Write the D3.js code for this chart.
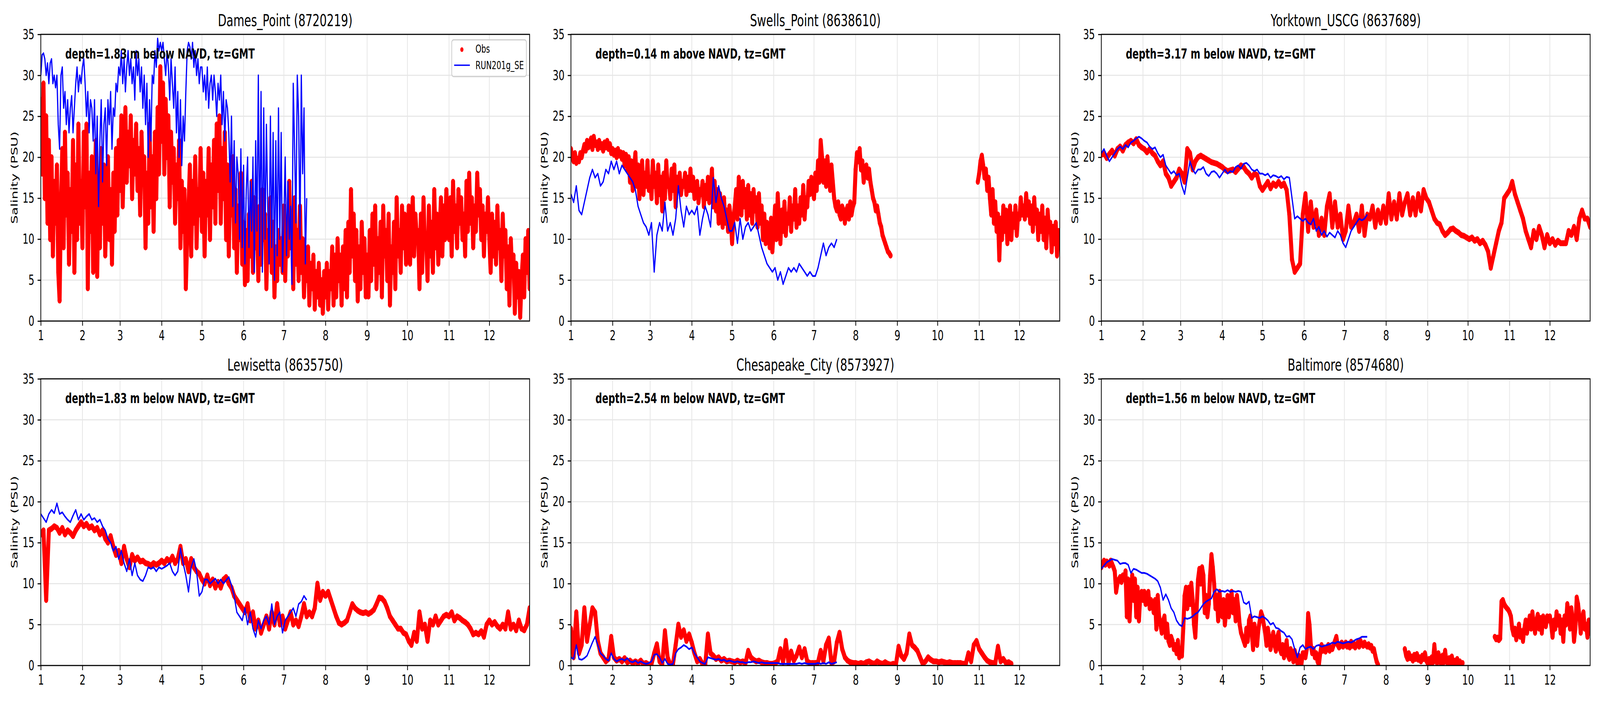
<!doctype html>
<html>
<head>
<meta charset="utf-8">
<title>Salinity: Obs vs RUN201g_SE</title>
<script src="https://cdn.jsdelivr.net/npm/d3@7"></script>
<style>
  html, body { margin: 0; padding: 0; width: 100%; height: 100%; overflow: hidden; background: #fff; }
  #chart { display: block; width: 100vw; height: 100vh; }
  svg text { font-family: "DejaVu Sans", sans-serif; }
</style>
</head>
<body>
<svg id="chart" viewBox="0 0 6000 1800" preserveAspectRatio="none"></svg>
<script>
// each series starts on Jan 1; values are every N days (see *StepDays), null = no data
const year = 2019;
const months = [1, 2, 3, 4, 5, 6, 7, 8, 9, 10, 11, 12];
const yTicks = [0, 5, 10, 15, 20, 25, 30, 35];
const stationTitles = ["Dames_Point (8720219)", "Swells_Point (8638610)", "Yorktown_USCG (8637689)",
                       "Lewisetta (8635750)", "Chesapeake_City (8573927)", "Baltimore (8574680)"];
const depthNotes = ["depth=1.83 m below NAVD, tz=GMT", "depth=0.14 m above NAVD, tz=GMT",
                    "depth=3.17 m below NAVD, tz=GMT", "depth=1.83 m below NAVD, tz=GMT",
                    "depth=2.54 m below NAVD, tz=GMT", "depth=1.56 m below NAVD, tz=GMT"];
const seriesNames = ["Obs", "RUN201g_SE"];
const yLabel = "Salinity (PSU)";
const obsStepDays = [1, 1, 2, 2, 2, 1];
const modelStepDays = [1, 2, 2, 2, 2, 2];

const damesObs = [
  27,18,29,15,25,12,22,10,20,8,17,12,19,6,2.5,14,21,9,23,13,18,7,16,11,22,6,19,10,24,12,17,
  9,23,14,24,4,18,11,20,6,15,22,5.5,17,9,21,12,19,8,14,20,10,16,7,18,11,21,13,22,
  16,25,14,21,26,17,23,19,25,15,22,18,24,16,21,13,23,17,20,9,18,12,24,14,20,11,23,15,26,18,31,
  22,29,18,27,20,25,14,23,17,21,12,19,15,22,9,17,11,16,4,10,14,19,8,17,12,20,9,16,13,21,
  11,18,8,17,13,21,10,19,14,22,12,24,16,25,12,21,15,23,10,19,8,17,13,20,9,16,6,14,10,18,7,
  12,4.5,11,5,13,8,17,6,15,9,12,5,14,7,16,10,13,4,11,8,15,6,12,3,9,5,11,7,10,6,
  14,5,12,8,17,9,13,4,15,7,11,5,14,6,10,3,8,5,9,2,7,4,8,1.5,6,3,7,2,5,1,6,
  3,7,1.5,6,4,9,2,8,3,10,5,8,2,9,4,11,3,12,6,16,8,13,5,11,2.5,9,4,12,6,10,3,
  8,3,11,5,13,7,14,4,10,6,12,3,14,8,11,5,13,2,9,6,12,4,15,8,11,6,14,9,13,7,
  9,14,7,12,15,8,13,10,11,4,13,6,15,9,10,5,14,8,12,6,16,9,13,7,11,15,8,14,10,16,12,
  10,15,8,17,11,14,9,16,12,15,10,13,8,17,11,18,12,15,9,14,11,18,13,16,10,14,8,13,11,15,
  10,6,13,8,12,7,14,9,11,5,13,8,11,4,9,2,10,6,8,1,7,3,6,0.5,5,8,3,10,6,11,4];
const damesModel = [
  30,32.5,32.7,32,30,31.5,29,31.5,32,29,30,28.5,30,24,21,30,31,26,28,24,27,23,26,27.5,23,26,29,31,28,30,29,
  31,32,29,25,28,23,27,26,22,27,18,25,14,22,27,17,24,26,19,27,24,28,21,26,25,29,28,31,
  30,33,29,32,28,31,33,30,32,29,31,27,33,30,32,28,31,26,30,24,29,20,27,22,30,29,33,31,34.5,33,34,
  33,34,32,30,33,31,27,32,29,26,31,23,28,20,27,19,25,22,28,33,34,33.5,32,34,31,33,30,32,29,31,
  31,28,30,27,31,26,29,30,27,30,28,25,29,27,30,24,28,22,27,26,23,17,25,14,22,12,20,18,10,21,9,
  19,7,16,20,9,17,11,20,6,22,11,30,8,28,6,26,10,24,14,7,25,9,23,5,22,8,26,10,23,6,
  12,20,8,17,10,14,4.5,29,21,12,30,25,10,30,18,26,7,15];

const swellsObs = [
  21,20,19.5,20.5,19.3,19.8,19.5,20.5,20,20.8,21.5,20.8,22,21.2,21.8,22.3,21,22.5,21.5,21.8,21,22,21.2,21.6,20.8,21.8,21.2,22,21,21.6,20.5,
  21,20.3,20.8,20,21,20.2,20.6,19.8,20.5,19,20.3,18.5,20,17,19.5,16,18.5,20.5,16.5,19,15,17.5,19.5,15.5,18,16.5,19.5,16,
  17.5,15,19.5,16.5,18,14.5,19,15.5,17.5,13.5,18,15,19.5,16.5,17,15,18.5,16,19,14,17.5,16,18,15.5,17,16.5,18,15.5,17.5,16,18.5,
  16,17.5,15,16.5,17,14.5,16,15.5,17,14,16.5,15,17.5,14.5,16,18.5,14,17,13.5,16,12,15.5,13,11.5,15,12,13.5,11,14,12.5,
  9.5,12.5,14,16,12.5,17.5,15,13,17,14,16,12.5,16.5,13,15.5,12,16,13.5,15,11.5,15.5,12,14,10,13,9.5,12,11,9,12.5,8.5,
  11,14,10,15.5,12,9.5,13.5,11,14.5,10.5,13,12,15,11,14,12.5,16,11.5,14,12,15,13,16.5,12.5,15,14,17,15.5,17.5,16,
  15,18,16,19.5,17,22,20,17,19.5,16.5,20,18,16,19,17,15,14,13.5,14.5,13,12.5,14,13.5,12,13.5,14,12.5,14.5,13,14,14.5,
  18.5,20.5,19.5,21,18.5,19.5,17,18.5,19,17.5,18.5,17,16,15,14.5,13.5,14,13,12,11.5,10.5,10,9.5,9,8.5,8.3,8,null,null,null,null,
  null,null,null,null,null,null,null,null,null,null,null,null,null,null,null,null,null,null,null,null,null,null,null,null,null,null,null,null,null,null,
  null,null,null,null,null,null,null,null,null,null,null,null,null,null,null,null,null,null,null,null,null,null,null,null,null,null,null,null,null,null,17,
  18,19.5,20.2,19,17.5,18.5,16,17.5,15,13,16,12,14.5,11,13,7.5,12.5,10,14,11,13.5,9.5,12,14,10,13,11.5,14,10.5,13,
  12.5,15,13,14,12.5,15.5,13,14.5,12,14,11,15,12,13.5,10,13,11,14,10,12.5,9,13.5,11,12,8.5,11.5,9.5,12,8,11,9.5];
const swellsModel = [
  15.5,14.5,16.5,13.5,13,14.5,16,17.5,18.5,17.5,18,16.5,17,18.5,18,19.5,
  18.5,19.5,18,19,18.5,18,17.5,17,16,14,13,12,11.5,10.5,
  12,6,10.5,12,11,14.5,11,12,10.5,12.5,16.5,13.5,11.5,14,13,
  13.5,13,14,10.5,12.5,14,13,11.5,17.5,14.5,16.5,15,14,12.5,11,
  11,12,9.5,12.5,10,11.5,12,11,11.5,12,10.5,9,8,7,6.5,6,
  6.5,5,6,4.5,5.5,6.5,6,6.5,6,7,6.5,6,5.5,6,5.5,
  5.5,6.5,8,9.5,8,9,9.5,9,10];

const yorktownObs = [
  20.3,20.5,19.9,20.4,20.8,20.2,21,21.3,20.8,21.5,21.8,22,21.7,22.2,21.5,21.2,
  21,20.6,21,20.5,20.2,19.5,19,19.5,18,17.5,16.5,17,17.5,18.5,
  18,17,21,20.5,18.5,19.5,20,20.2,20,19.8,19.6,19.4,19.3,19.2,19,
  18.8,18.5,18.3,18.4,18.5,18.2,18.6,19,18.8,18.3,18,17.5,18,17.8,16.5,
  16,16.5,17,16.2,16.8,16.5,17,16.5,16.8,16,13,7.5,6,6.5,7,13,
  15.5,11,14.5,11.5,13.5,10.5,12.5,10.5,14,15.5,11.5,14.5,11.5,13,10,
  11,14,11.5,12,13,11,14,10.5,13,12.5,14,11.5,13.5,12,14,
  12,15.5,12.5,14.5,12.5,15.5,13,14.5,15.5,13,15,13,15.5,13.5,16,15,
  14.5,13.5,12.5,12,11.8,11,10.5,10.8,11.2,11.3,11,10.8,10.5,10.4,10.2,
  10,10.2,9.8,10,9.5,9.8,9.3,8.5,6.5,8,9.5,11,12,15,15.5,
  16,17,15.5,14.5,13.5,12.5,11,10,9,11,10,11.5,10.5,9,10.5,
  9.5,10,9.3,9.8,9.5,9.5,9.5,11,10.5,11.5,10,12.5,13.5,12.5,12.5,11.5];
const yorktownModel = [
  20.5,21,20.2,19.5,20,20.5,21,21.3,21,21.5,21.2,21.8,22,22.3,22.5,22.3,
  22,21.8,21.3,21,21.2,20.5,20,20.3,19,18.5,18,18.3,17.8,18,
  16.5,15.5,17.5,19.5,18.5,18,18.5,18.5,18.8,18,17.7,18.2,18.3,18,17.5,
  18,18.5,18,18.3,18.2,18.8,19,18.6,19.2,19.3,19,18.5,18.3,18.5,18,
  18,17.8,18,17.5,17.8,17.7,17.5,17.7,17.3,17.6,17.5,15,12.5,12.8,12.5,12.2,
  12.5,12,11.8,12.5,11,11.5,10.5,11,10.3,10.8,10.5,10.2,11,10.5,9.5,
  9,10,11,11.5,12,12.5,12.3,12.5,13];

const lewisettaObs = [
  16,16.5,8,16.5,16.7,17,16.8,16.2,16.8,16,16.5,16.2,15.8,16.5,17,17.5,
  17,17.3,16.8,17,16.5,16.8,16,16.5,15.5,15,15.8,14.5,13.5,14,
  12.5,14.5,13,12,13.5,12.8,13.2,12.7,12.8,12.5,12.4,12.2,12.5,12.3,12.5,
  12.8,12.5,13,12.7,13.3,12.5,13,14.5,12.5,13,11.5,13,12,11.5,11.2,
  10.5,10,11,9.8,10.5,9.5,10.2,9.5,10.5,10.8,10,9.5,8.5,8,7.5,7,
  6.5,7.5,5.5,6.5,4.5,5.5,4,5,6,4.5,6.5,5,7.5,5,6,
  4.5,5.5,6.5,5,5.5,4.8,6,7.5,6,6.5,6,7,10,8,9,
  8.5,9,8,7,6,5.2,5,5.2,5.5,6.5,7.5,7,6.7,6.5,6.4,6.5,
  6.3,6.5,6.8,7.5,8.3,8.2,7.8,7,6,5.5,5,4.5,4.5,4,3.8,
  3,2.5,4,3,6.5,4.5,5,3,5.5,5,6,5,5.5,6,6.2,
  6,6.5,5.5,6,5.8,5.5,5.3,5,4.5,3.8,4,3.8,4.2,3.5,5,
  5.5,5,5.3,4.8,4.5,5,4.5,6.5,4.5,5,4.3,5.5,4.5,4.3,5,7];
const lewisettaModel = [
  18.5,18,17.5,18.5,19,18.6,19.8,18.5,18.7,18.2,17.8,17.5,18.3,19,17.8,18.5,
  17.8,18.2,18.5,17.8,18,17.5,17.8,17,16.5,15.5,15,14,14.5,13,
  14,12.5,11.5,13,11,12.5,11,10.5,10.3,11,12,11.8,12,11.5,12,
  11.8,12,12.2,12.5,11.5,11,11.5,14.3,12.5,11,9,12,13,11.5,8.5,
  9,10.5,10.5,10,10.3,10.6,10,10.5,10,10.4,10.8,9.8,8.5,6.5,6,5.5,
  7,5,6.5,4.5,3.5,5.5,4.5,5.5,6,5,7.5,5,6,6.5,4,
  5.5,6,6.5,7,6,7.5,7.8,8.5,8];

const chesapeakeObs = [
  4.5,1,6.5,1.5,2.5,7,3,5,7,6.5,3,1.5,1,0.5,0.8,3.5,
  1,0.6,0.8,0.5,0.9,0.4,0.6,0.3,0.5,0.3,0.6,0.2,0.3,0.1,
  0.2,1.5,2.6,0.5,0.2,4.2,1,0.1,0.2,2.5,5,3.5,4.3,3,3.8,
  2.8,1.5,0.5,0.8,0.2,0.1,3.8,1.5,1.2,0.8,1,0.6,0.8,0.5,0.6,
  0.5,0.4,0.6,0.4,0.5,0.3,1.8,1,0.7,0.5,0.6,0.4,0.3,0.3,0.2,0.2,
  0.3,0.5,2,0.4,3,0.3,1.7,0.6,1.2,2.2,1,2,0.5,0.3,0.3,
  0.3,0.4,1.8,0.5,2.5,3.3,0.3,0.5,2.8,4,2,1,0.6,0.4,0.3,
  0.3,0.2,0.3,0.2,0.4,0.5,0.3,0.2,0.5,0.3,0.2,0.4,0.2,0.1,0.2,0.1,
  2.3,1.2,0.8,1.5,3.8,2.5,2.2,1.8,1,0.2,0.5,1,0.7,0.5,0.5,
  0.4,0.5,0.4,0.3,0.4,0.3,0.3,0.3,0.3,0.2,0.2,1.5,0.5,2.5,3,
  2,1.5,1,0.6,0.4,0.3,0.3,2.3,0.5,0.8,0.3,0.4,0.2];
const chesapeakeModel = [
  1,0.8,2.5,0.8,0.7,0.9,1.2,2,2.8,3.5,2.5,1.5,1.2,0.8,0.6,1.5,
  0.8,0.5,0.7,0.8,0.6,0.9,0.5,0.4,0.6,0.3,0.5,0.3,0.2,0.3,
  0.5,1.3,1.4,1,0.3,0.8,0.2,0.1,0.2,1.5,2,2.2,2.5,2.3,2,
  2.2,1.5,1,0.5,0.3,0.2,1,0.9,0.8,0.7,0.8,0.6,0.7,0.5,0.6,
  0.5,0.4,0.5,0.4,0.4,0.3,0.4,0.4,0.5,0.4,0.3,0.4,0.3,0.3,0.3,0.3,
  0.3,0.3,0.2,0.2,0.2,0.2,0.2,0.2,0.2,0.3,0.2,0.3,0.2,0.2,0.2,
  0.2,0.3,0.2,0.3,0.2,0.4,0.2,0.3,0.4];

const baltimoreObs = [
  12,12.5,12.8,12.3,12.7,12.5,12.2,12.8,12.4,12,11.5,9,10,10.5,10.8,10.2,11,10.5,11.5,6,10.5,5.5,9,11,8,10.5,6,9.5,5.5,8.5,9,
  8,9,7.5,8.5,9,7,8,7.5,6.5,8,4.5,8.5,6,5,4,5.5,6,3.5,5,3,2.5,3.5,3,2,2.5,1.5,3,1,
  2,1.2,4.5,8.5,9.5,7,9.5,7.5,10,8,5,3.5,7,10.5,11.8,10,12,11,6.5,8.5,6,7.5,11,13.5,12,10,7,8.5,5.5,9,7,
  6,8,5,6.5,8.5,6,7.5,9,6.5,8,5.5,8.5,7,5,4,3.5,3,2.5,4.5,3,5.5,6,4,2,5,3.5,2.5,4.5,5.5,6.5,
  6,5,4,2.5,4.5,3.5,2,3,4,2.5,1.8,3.5,4,2,1.5,2.5,1,2,3,1.2,0.8,2,1.5,0.5,1.8,1,0.3,1.2,0.5,0.2,1.5,
  1.5,1,2,6.3,5,2.5,1.5,2,1,1.5,0.5,0.1,1.5,2.5,1.8,2.2,1.7,2,2.5,1.8,2.2,2,2.5,3,3.5,2.5,2.2,2.4,2.8,2.3,
  2.5,2.8,2.3,2.6,2.2,2.9,2.4,2.7,2.2,2.5,2.8,2.3,3,2.6,2.4,2.8,2.5,2.3,2.6,2.2,2.4,1.8,2,1.2,0.5,0.1,null,null,null,null,null,
  null,null,null,null,null,null,null,null,null,null,null,null,null,null,2,1.2,0.8,1.5,0.9,1.1,0.6,1.3,0.8,1.4,0.7,1,0.5,1.2,0.8,1.5,0.6,
  0.3,0.8,0.2,1,0.4,2.5,0.6,0.3,1.5,0.8,0.2,1.2,0.4,1.8,0.5,0.2,0.9,0.3,1.1,0.1,0.6,0.4,0.8,0.2,0.5,0.1,0.3,null,null,null,
  null,null,null,null,null,null,null,null,null,null,null,null,null,null,null,null,null,null,null,null,3.5,3.2,3.4,3.1,3.3,7.8,8,7.5,7.2,7,6.8,
  6.5,6,4.5,3.8,4.5,3.2,4,5,3.5,4.2,3,4.5,5.5,4,5,6,4.5,6.5,5,4,5.5,6.2,4.5,5.8,4,6,5.5,4.8,6,5.5,
  6,5,3.5,5.5,4.5,6.5,5,6,4,5.5,3,6,5,7.5,6.5,4.5,7,5.5,3,4.5,8.3,7.5,6,4,5.5,6.5,4.5,5,3.5,5.5,4];
const baltimoreModel = [
  11.8,12.2,12.6,12.8,13,12.9,12.8,12.4,12.5,12.5,12.3,11.3,11.8,11.7,11.5,11.3,
  11.3,11.2,11,10.8,10.6,10.3,9.5,8,8.7,8,7,6.5,5.5,5,
  4.8,5.8,5.7,5.8,6,6.3,6.5,7,7.5,7.8,8,8.2,9,9.3,9,
  9.1,9,9.2,9,9.1,9,9.1,9,7.7,7.5,7.8,5.8,6,5.9,5.8,
  6,5.8,5.5,5,5.2,4.6,4.5,4.2,4,3.5,3.6,3.2,2,1,2.2,2.5,
  2,2.2,2.3,2,2.4,2.5,2.3,2.4,2.5,2.6,2.8,2.7,2.9,2.8,2.7,
  2.8,2.9,2.8,3,3.2,3.3,3.5,3.5,3.5];

const obsSeries = [damesObs, swellsObs, yorktownObs, lewisettaObs, chesapeakeObs, baltimoreObs];
const modelSeries = [damesModel, swellsModel, yorktownModel, lewisettaModel, chesapeakeModel, baltimoreModel];

// layout (pixels)
const colX = [153, 2141, 4130], rowY = [88, 970];
const pw = 1833, ph = 734;
const obsColor = "#ff0000", modelColor = "#0000ff";

const svg = d3.select("#chart");
const t0 = Date.UTC(year, 0, 1);
const dayMs = 864e5;
const monthDates = months.map(m => new Date(Date.UTC(year, m - 1, 1)));

const x = d3.scaleUtc().domain([new Date(t0), new Date(Date.UTC(year, 11, 31))]).range([0, pw]);
const y = d3.scaleLinear().domain([0, 35]).range([ph, 0]);

const line = d3.line()
  .defined(d => d.v !== null)
  .x(d => x(d.t))
  .y(d => y(d.v));

const toPoints = (values, step) => values.map((v, i) => ({ t: new Date(t0 + i * step * dayMs), v }));

stationTitles.forEach((title, k) => {
  const g = svg.append("g")
    .attr("transform", `translate(${colX[k % 3]},${rowY[Math.floor(k / 3)]})`);

  // grid
  g.append("g").selectAll("line").data(monthDates).join("line")
    .attr("x1", d => x(d)).attr("x2", d => x(d))
    .attr("y1", 0).attr("y2", ph)
    .attr("stroke", "#e6e6e6").attr("stroke-width", 2.8);
  g.append("g").selectAll("line").data(yTicks).join("line")
    .attr("x1", 0).attr("x2", pw)
    .attr("y1", d => y(d)).attr("y2", d => y(d))
    .attr("stroke", "#e6e6e6").attr("stroke-width", 2.8);

  const clipId = "clip" + k;
  g.append("clipPath").attr("id", clipId)
    .append("rect").attr("width", pw).attr("height", ph);
  const plot = g.append("g").attr("clip-path", `url(#${clipId})`);

  const obs = toPoints(obsSeries[k], obsStepDays[k]);
  plot.append("path").datum(obs)
    .attr("d", line)
    .attr("fill", "none").attr("stroke", obsColor)
    .attr("stroke-width", 15)
    .attr("stroke-linecap", "round").attr("stroke-linejoin", "round");
  plot.append("g").selectAll("circle").data(obs.filter(d => d.v !== null)).join("circle")
    .attr("cx", d => x(d.t)).attr("cy", d => y(d.v))
    .attr("r", 7.5).attr("fill", obsColor);

  const model = toPoints(modelSeries[k], modelStepDays[k]);
  plot.append("path").datum(model)
    .attr("d", line)
    .attr("fill", "none").attr("stroke", modelColor)
    .attr("stroke-width", 4.5)
    .attr("stroke-linejoin", "round");

  // frame
  g.append("rect").attr("width", pw).attr("height", ph)
    .attr("fill", "none").attr("stroke", "#000").attr("stroke-width", 2.8);

  // axes
  const xAxis = g.append("g").attr("transform", `translate(0,${ph})`)
    .call(d3.axisBottom(x).tickValues(monthDates)
      .tickFormat(d => d.getUTCMonth() + 1)
      .tickSize(12).tickPadding(12).tickSizeOuter(0));
  const yAxis = g.append("g")
    .call(d3.axisLeft(y).tickValues(yTicks)
      .tickSize(12).tickPadding(12).tickSizeOuter(0));
  [xAxis, yAxis].forEach(a => {
    a.select(".domain").remove();
    a.attr("font-family", null).attr("font-size", null);
    a.selectAll("line").attr("stroke-width", 2.8);
    a.selectAll("text").attr("font-size", 35).attr("fill", "#000");
  });

  g.append("text")
    .attr("x", pw / 2).attr("y", -21)
    .attr("text-anchor", "middle").attr("font-size", 42)
    .text(title);

  g.append("text")
    .attr("x", pw * 0.05).attr("y", 62)
    .attr("font-size", 35).attr("font-weight", "bold")
    .text(depthNotes[k]);

  g.append("text")
    .attr("transform", `translate(-87,${ph / 2}) rotate(-90)`)
    .attr("text-anchor", "middle").attr("font-size", 35)
    .text(yLabel);

  if (k === 0) {
    const lg = g.append("g").attr("transform", `translate(${pw - 292},14)`);
    lg.append("rect").attr("width", 280).attr("height", 94).attr("rx", 7)
      .attr("fill", "#fff").attr("fill-opacity", 0.8)
      .attr("stroke", "#cccccc").attr("stroke-width", 2.8);
    lg.append("circle").attr("cx", 38).attr("cy", 25).attr("r", 6).attr("fill", obsColor);
    lg.append("line").attr("x1", 9).attr("x2", 68).attr("y1", 65).attr("y2", 65)
      .attr("stroke", modelColor).attr("stroke-width", 3.5);
    lg.selectAll("text.entry").data(seriesNames).join("text")
      .attr("class", "entry")
      .attr("x", 89).attr("y", (d, i) => 33 + i * 42)
      .attr("font-size", 28)
      .text(d => d);
  }
});
</script>
</body>
</html>
